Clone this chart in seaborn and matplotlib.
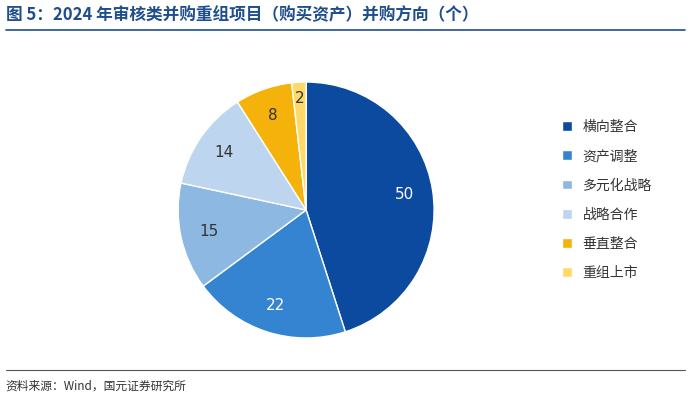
import matplotlib
matplotlib.use("Agg")
import matplotlib.pyplot as plt
import seaborn as sns
from matplotlib.patches import Patch
import numpy as np

sns.set_theme(style="white")
plt.rcParams['font.family'] = ['Noto Sans CJK SC', 'DejaVu Sans']

categories = ["横向整合", "资产调整", "多元化战略", "战略合作", "垂直整合", "重组上市"]
values = [50, 22, 15, 14, 8, 2]
colors = ["#0B4A9E", "#3584D2", "#8DB8E2", "#BDD5EE", "#F5B20A", "#FFD966"]
label_colors = ["white", "white", "#333333", "#333333", "#333333", "#333333"]

fig = plt.figure(figsize=(6.91, 4.0), dpi=100)
w, h = 0.463, 0.80
ax = fig.add_axes([0.443 - w / 2, 0.475 - h / 2, w, h])
wedges, texts = ax.pie(values, colors=colors, startangle=90, counterclock=False,
                       wedgeprops=dict(edgecolor="white", linewidth=1))
ang = 90.0
tot = sum(values)
for v, c in zip(values, label_colors):
    span = 360 * v / tot
    mid = np.deg2rad(ang - span / 2)
    r = 0.78 if v > 5 else 0.87
    ax.text(r * np.cos(mid), r * np.sin(mid), str(v), ha="center", va="center",
            fontsize=11, color=c, family="DejaVu Sans")
    ang -= span
ax.set_aspect("equal")

handles = [Patch(facecolor=c, label=l) for c, l in zip(colors, categories)]
fig.legend(handles=handles, loc="center left", bbox_to_anchor=(0.795, 0.5),
           frameon=False, fontsize=10, handlelength=0.7, handleheight=0.7,
           labelspacing=1.1, labelcolor="#333333")

fig.text(0.008, 0.962, "图 5：2024 年审核类并购重组项目（购买资产）并购方向（个）",
         fontsize=12, fontweight="bold", color="#1F4E8C", va="center")
fig.add_artist(plt.Line2D([0.008, 0.992], [0.925, 0.925], color="#1F4E8C", lw=1.2))
fig.add_artist(plt.Line2D([0.008, 0.992], [0.075, 0.075], color="#555555", lw=0.8))
fig.text(0.008, 0.035, "资料来源：Wind，国元证券研究所", fontsize=8.5, color="#333333", va="center")

fig.savefig("out.png", dpi=100)
